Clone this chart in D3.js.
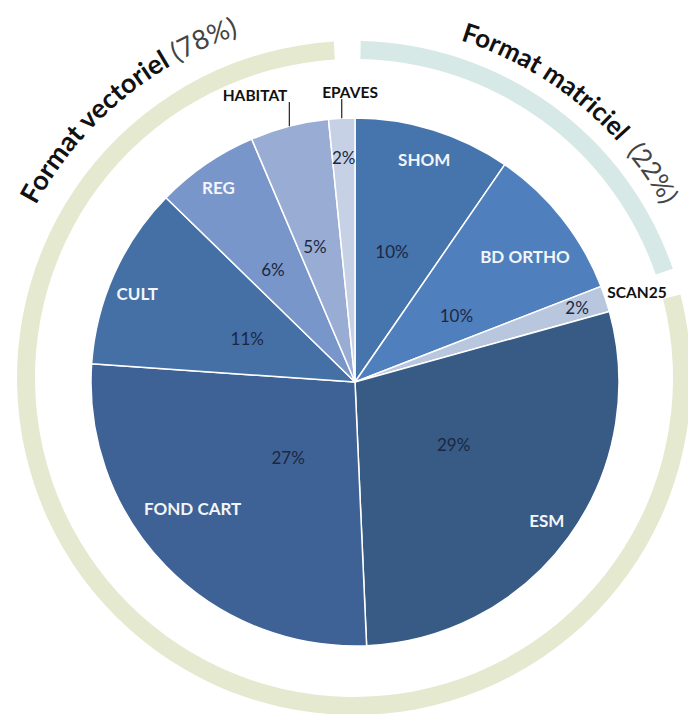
<!DOCTYPE html>
<html><head><meta charset="utf-8">
<script src="https://cdn.jsdelivr.net/npm/d3@7"></script>
<style>body{margin:0;background:#fff}svg{display:block}</style>
</head><body>
<script>
// ---- data ----
const categories = ["SHOM","BD ORTHO","SCAN25","ESM","FOND CART","CULT","REG","HABITAT","EPAVES"];
const values     = [9.6, 9.5, 1.6, 28.6, 26.8, 11.2, 6.3, 4.8, 1.6];
const pctLabels  = ["10%","10%","2%","29%","27%","11%","6%","5%","2%"];
const groupOf    = ["Format matriciel","Format matriciel","Format matriciel",
                    "Format vectoriel","Format vectoriel","Format vectoriel","Format vectoriel","Format vectoriel","Format vectoriel"];
const groupNames = ["Format matriciel","Format vectoriel"];
const groupPct   = ["(22%)","(78%)"];
const outsideLabels = ["SCAN25","HABITAT","EPAVES"];
const leaderLabels  = ["HABITAT","EPAVES"];

// ---- styles / layout ----
const W = 688, H = 714;
const cx = 355, cy = 382, R = 264;
const ringCx = 354, ringCy = 378, ringIn = 319, ringOut = 337, ringGap = 0.08, ringRot = -0.02;
const sliceColors = ["#4674ac","#4f80bd","#b8c6de","#375b85","#3e6295","#4470a6","#7896c9","#99add4","#c6d1e5"];
const ringColors  = ["#d6e9e6","#e5e9cf"];
// [start deg, end deg, baseline radius, font size]
const groupTextSpan = { "Format matriciel":[17.5, 66, 354, 26], "Format vectoriel":[-61.5, -13, 362, 27] };
// label placement: radius px and angle offset (deg) from slice middle
const pctPos  = {"SHOM":[135,-1.4],"BD ORTHO":[121,5.3],"SCAN25":[234,0],"ESM":[117,-3.5],"FOND CART":[101,-4.3],
                 "CULT":[116,-2.4],"REG":[139,-1.8],"HABITAT":[141,-2.1],"EPAVES":[224,0]};
const namePos = {"SHOM":[233,0],"BD ORTHO":[211,2],"SCAN25":[296,0.7],"ESM":[237,0],"FOND CART":[206,6.3],
                 "CULT":[235,-2],"REG":[237,-0.8],"HABITAT":[304,-4.8],"EPAVES":[290,1.9]};

const FONT = "Lato, 'Open Sans', sans-serif";
const rad = d => d * Math.PI / 180;
const polar = (r, a) => [r * Math.sin(a), -r * Math.cos(a)];

const data = categories.map((c, i) => ({cat: c, v: values[i], pct: pctLabels[i], group: groupOf[i]}));
const color = d3.scaleOrdinal().domain(categories).range(sliceColors);
const ringColor = d3.scaleOrdinal().domain(groupNames).range(ringColors);

const svg = d3.select("body").append("svg").attr("width", W).attr("height", H)
  .style("font-family", FONT);

// ---- outer ring ----
const groupTotals = groupNames.map(g => ({g, v: d3.sum(data.filter(d => d.group === g), d => d.v)}));
const ringPie = d3.pie().sort(null).value(d => d.v).startAngle(ringRot).endAngle(2 * Math.PI + ringRot)(groupTotals);
const ringArc = d3.arc().innerRadius(ringIn).outerRadius(ringOut)
  .startAngle(d => d.startAngle + ringGap / 2).endAngle(d => d.endAngle - ringGap / 2);
const ringG = svg.append("g").attr("transform", `translate(${ringCx},${ringCy})`);
ringG.selectAll("path").data(ringPie).join("path")
  .attr("d", ringArc).attr("fill", d => ringColor(d.data.g));

// group titles along arcs
const defs = ringG.append("defs");
groupNames.forEach((g, i) => {
  const [a0, a1, tr, fs] = groupTextSpan[g];
  const p = d3.path();
  const s = polar(tr, rad(a0));
  p.moveTo(s[0], s[1]);
  p.arc(0, 0, tr, rad(a0) - Math.PI / 2, rad(a1) - Math.PI / 2, false);
  defs.append("path").attr("id", "gp" + i).attr("d", p.toString());
  const t = ringG.append("text").attr("font-size", fs).attr("fill", "#111");
  const tp = t.append("textPath").attr("href", "#gp" + i);
  tp.append("tspan").attr("font-weight", 700).text(g);
  tp.append("tspan").attr("font-weight", 400).attr("fill", "#444")
    .text((g === "Format matriciel" ? "\u00a0\u00a0" : "\u00a0") + groupPct[i]);
});

// ---- pie ----
const pie = d3.pie().sort(null).value(d => d.v).startAngle(0).endAngle(2 * Math.PI);
const arcs = pie(data);
const arc = d3.arc().innerRadius(0).outerRadius(R);
const g = svg.append("g").attr("transform", `translate(${cx},${cy})`);
g.selectAll("path.slice").data(arcs).join("path").attr("class", "slice")
  .attr("d", arc).attr("fill", d => color(d.data.cat))
  .attr("stroke", "#fff").attr("stroke-width", 1.5).attr("stroke-linejoin", "round");

const mid = d => (d.startAngle + d.endAngle) / 2;

// percentage labels
g.selectAll("text.pct").data(arcs).join("text").attr("class", "pct")
  .attr("transform", d => { const [r, o] = pctPos[d.data.cat]; const [x, y] = polar(r, mid(d) + rad(o)); return `translate(${x},${y})`; })
  .attr("text-anchor", "middle").attr("dy", "0.36em")
  .attr("font-size", 17).attr("fill", "#1c2741")
  .text(d => d.data.pct);

// category labels
g.selectAll("text.name").data(arcs).join("text").attr("class", "name")
  .attr("transform", d => { const [r, o] = namePos[d.data.cat]; const [x, y] = polar(r, mid(d) + rad(o)); return `translate(${x},${y})`; })
  .attr("text-anchor", "middle").attr("dy", "0.36em")
  .attr("font-size", d => outsideLabels.includes(d.data.cat) ? 15.5 : 17)
  .attr("font-weight", 700)
  .attr("fill", d => outsideLabels.includes(d.data.cat) ? "#111" : "#f3f5f9")
  .text(d => d.data.cat);

// leader lines
g.selectAll("line.leader").data(arcs.filter(d => leaderLabels.includes(d.data.cat))).join("line")
  .attr("class", "leader")
  .attr("x1", d => polar(R, mid(d))[0]).attr("x2", d => polar(R, mid(d))[0])
  .attr("y1", d => polar(R, mid(d))[1])
  .attr("y2", d => { const [r, o] = namePos[d.data.cat]; return polar(r, mid(d) + rad(o))[1] + 7; })
  .attr("stroke", "#222").attr("stroke-width", 1.2);
</script>
</body></html>
